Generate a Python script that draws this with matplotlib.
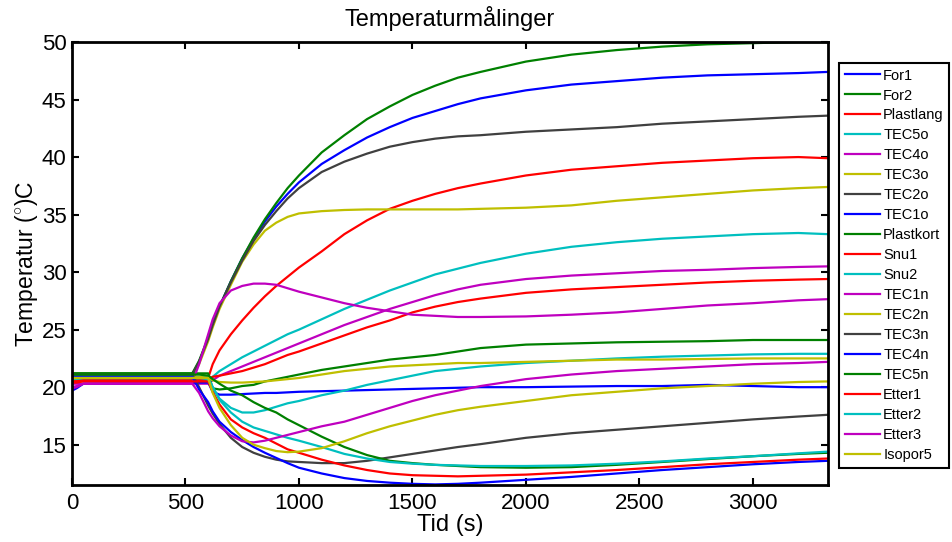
import numpy as np
import matplotlib
matplotlib.use("Agg")
import matplotlib.pyplot as plt

plt.rcParams["font.family"] = ["Liberation Sans", "DejaVu Sans"]
plt.rcParams["mathtext.fontset"] = "custom"
plt.rcParams["mathtext.rm"] = "Liberation Sans"

# tidspunkt (s) for de avleste verdiene
tid = [0, 20, 50, 530, 560, 600, 620, 650, 700, 750, 800, 850, 900, 950, 1000,
       1100, 1200, 1300, 1400, 1500, 1600, 1700, 1800, 2000, 2200, 2400, 2600,
       2800, 3000, 3200, 3330]

navn = ["For1", "For2", "Plastlang", "TEC5o", "TEC4o", "TEC3o", "TEC2o", "TEC1o",
        "Plastkort", "Snu1", "Snu2", "TEC1n", "TEC2n", "TEC3n", "TEC4n", "TEC5n",
        "Etter1", "Etter2", "Etter3", "Isopor5"]

for1 = [20.9, 20.9, 21.0, 21.0, 22.2, 24.2, 25.4, 27.0, 29.2, 31.2, 32.9, 34.4, 35.7, 36.8, 37.8,
        39.4, 40.6, 41.7, 42.6, 43.4, 44.0, 44.6, 45.1, 45.8, 46.3, 46.6, 46.9, 47.1, 47.2, 47.3, 47.4]
for2 = [21.2, 21.2, 21.2, 21.2, 22.3, 24.3, 25.5, 27.0, 29.2, 31.2, 33.0, 34.6, 36.0, 37.3, 38.4,
        40.4, 41.9, 43.3, 44.4, 45.4, 46.2, 46.9, 47.4, 48.3, 48.9, 49.3, 49.6, 49.8, 49.9, 50.0, 50.0]
plastlang = [20.6, 20.6, 20.7, 20.7, 20.7, 20.8, 22.0, 23.2, 24.6, 25.8, 26.9, 27.9, 28.8, 29.6, 30.4,
             31.8, 33.3, 34.5, 35.5, 36.2, 36.8, 37.3, 37.7, 38.4, 38.9, 39.2, 39.5, 39.7, 39.9, 40.0, 39.9]
tec5o = [20.7, 20.7, 20.7, 20.7, 20.7, 20.6, 20.9, 21.4, 22.0, 22.6, 23.1, 23.6, 24.1, 24.6, 25.0,
         25.9, 26.8, 27.6, 28.4, 29.1, 29.8, 30.3, 30.8, 31.6, 32.2, 32.6, 32.9, 33.1, 33.3, 33.4, 33.3]
tec4o = [20.3, 20.3, 20.3, 20.3, 20.3, 20.3, 20.6, 21.0, 21.4, 21.8, 22.2, 22.6, 23.0, 23.4, 23.8,
         24.6, 25.4, 26.1, 26.8, 27.4, 28.0, 28.5, 28.9, 29.4, 29.7, 29.9, 30.1, 30.2, 30.35, 30.45, 30.5]
tec3o = [20.8, 20.8, 20.9, 20.9, 22.0, 24.0, 25.2, 26.8, 28.9, 30.9, 32.4, 33.6, 34.3, 34.8, 35.1,
         35.3, 35.4, 35.45, 35.45, 35.45, 35.45, 35.45, 35.5, 35.6, 35.8, 36.2, 36.5, 36.8, 37.1, 37.3, 37.4]
tec2o = [21.1, 21.1, 21.1, 21.1, 22.2, 24.2, 25.4, 27.0, 29.1, 31.0, 32.7, 34.1, 35.3, 36.4, 37.3,
         38.7, 39.6, 40.3, 40.9, 41.3, 41.6, 41.8, 41.9, 42.2, 42.4, 42.6, 42.9, 43.1, 43.3, 43.5, 43.6]
tec1o = [19.7, 19.9, 20.3, 20.4, 20.4, 20.4, 19.6, 19.35, 19.35, 19.4, 19.45, 19.5, 19.5, 19.55, 19.6,
         19.65, 19.7, 19.75, 19.8, 19.85, 19.9, 19.95, 20.0, 20.0, 20.05, 20.1, 20.1, 20.2, 20.1, 20.0, 20.0]
plastkort = [21.2, 21.2, 21.2, 21.2, 21.2, 21.2, 19.9, 19.8, 19.9, 20.1, 20.2, 20.5, 20.7, 20.9, 21.1,
             21.5, 21.8, 22.1, 22.4, 22.6, 22.8, 23.1, 23.4, 23.7, 23.8, 23.9, 23.95, 24.0, 24.1, 24.1, 24.1]
snu1 = [20.5, 20.5, 20.6, 20.6, 20.6, 20.7, 20.9, 21.0, 21.2, 21.4, 21.7, 22.0, 22.4, 22.8, 23.1,
        23.8, 24.5, 25.2, 25.8, 26.5, 27.0, 27.4, 27.7, 28.2, 28.5, 28.7, 28.9, 29.1, 29.25, 29.35, 29.4]
snu2 = [20.9, 20.9, 20.9, 20.9, 20.9, 20.9, 20.0, 19.0, 18.2, 17.8, 17.8, 18.0, 18.3, 18.6, 18.8,
        19.3, 19.7, 20.2, 20.6, 21.0, 21.4, 21.6, 21.8, 22.1, 22.3, 22.5, 22.65, 22.75, 22.85, 22.9, 22.9]
tec1n = [20.0, 20.1, 20.3, 20.4, 22.0, 24.6, 25.9, 27.3, 28.4, 28.8, 29.0, 29.0, 28.9, 28.6, 28.3,
         27.8, 27.3, 26.9, 26.6, 26.3, 26.2, 26.1, 26.1, 26.15, 26.3, 26.5, 26.8, 27.1, 27.3, 27.55, 27.65]
tec2n = [20.8, 20.8, 20.9, 20.9, 20.9, 20.8, 20.6, 20.45, 20.4, 20.4, 20.45, 20.5, 20.6, 20.7, 20.8,
         21.1, 21.4, 21.6, 21.8, 21.9, 22.0, 22.1, 22.1, 22.2, 22.3, 22.4, 22.4, 22.45, 22.5, 22.5, 22.5]
tec3n = [21.1, 21.1, 21.1, 21.1, 20.0, 18.4, 17.7, 16.8, 15.6, 14.8, 14.3, 13.95, 13.7, 13.55, 13.5,
         13.4, 13.4, 13.6, 13.9, 14.2, 14.5, 14.8, 15.05, 15.6, 16.0, 16.3, 16.6, 16.9, 17.2, 17.45, 17.6]
tec4n = [20.9, 20.9, 20.9, 20.9, 19.8, 18.7, 17.9, 17.0, 16.1, 15.4, 14.8, 14.3, 13.85, 13.4, 13.0,
         12.5, 12.1, 11.85, 11.7, 11.6, 11.55, 11.6, 11.7, 11.95, 12.2, 12.5, 12.8, 13.05, 13.3, 13.5, 13.6]
tec5n = [21.1, 21.1, 21.1, 21.1, 21.1, 21.0, 20.7, 20.3, 19.7, 19.3, 18.7, 18.2, 17.8, 17.2, 16.7,
         15.7, 14.8, 14.1, 13.6, 13.4, 13.25, 13.15, 13.05, 13.0, 13.05, 13.25, 13.5, 13.75, 14.0, 14.2, 14.3]
etter1 = [20.4, 20.4, 20.5, 20.5, 20.5, 20.5, 19.6, 18.5, 17.2, 16.5, 16.0, 15.6, 15.1, 14.6, 14.3,
          13.7, 13.2, 12.8, 12.5, 12.35, 12.3, 12.25, 12.3, 12.4, 12.6, 12.8, 13.05, 13.3, 13.5, 13.7, 13.8]
etter2 = [20.8, 20.8, 20.8, 20.8, 20.8, 20.7, 20.0, 18.9, 17.8, 17.0, 16.5, 16.2, 15.9, 15.6, 15.35,
          14.8, 14.2, 13.8, 13.5, 13.35, 13.25, 13.2, 13.15, 13.15, 13.2, 13.35, 13.55, 13.8, 14.0, 14.25, 14.4]
etter3 = [19.9, 20.0, 20.3, 20.3, 19.5, 17.9, 17.3, 16.6, 15.8, 15.3, 15.2, 15.35, 15.6, 15.85, 16.1,
          16.6, 17.0, 17.6, 18.2, 18.8, 19.3, 19.7, 20.1, 20.7, 21.1, 21.4, 21.6, 21.8, 22.0, 22.1, 22.2]
isopor5 = [20.8, 20.8, 20.8, 20.8, 20.8, 20.8, 19.5, 18.2, 16.7, 15.6, 15.0, 14.7, 14.45, 14.35, 14.4,
           14.7, 15.3, 16.0, 16.6, 17.1, 17.6, 18.0, 18.3, 18.8, 19.3, 19.6, 19.9, 20.1, 20.3, 20.45, 20.5]

serier = [for1, for2, plastlang, tec5o, tec4o, tec3o, tec2o, tec1o, plastkort, snu1,
          snu2, tec1n, tec2n, tec3n, tec4n, tec5n, etter1, etter2, etter3, isopor5]

# standard fargerekkefolge (b, g, r, c, m, y, k)
farger = ["#0000ff", "#008000", "#ff0000", "#00bfbf", "#bf00bf", "#bfbf00", "#404040"]

fig = plt.figure(figsize=(9.52, 5.42), dpi=100)
ax = fig.add_axes([0.0756, 0.1052, 0.794, 0.8173])

for i, (lbl, y) in enumerate(zip(navn, serier)):
    ax.plot(tid, y, color=farger[i % len(farger)], lw=1.6, label=lbl)

ax.set_xlim(0, 3330)
ax.set_ylim(11.5, 50)
ax.set_xticks(np.arange(0, 3001, 500))
ax.set_yticks(np.arange(15, 51, 5))
ax.tick_params(direction="in", length=5, width=1.5, top=True, right=True,
               labelsize=16)
ax.tick_params(axis="x", pad=6)
ax.tick_params(axis="y", pad=4)
for s in ax.spines.values():
    s.set_linewidth(2)

ax.set_title("Temperaturmålinger", fontsize=17, pad=11.5)
ax.set_xlabel("Tid (s)", fontsize=17, labelpad=0)
ax.set_ylabel(r"Temperatur ($^{\circ}$)C", fontsize=16.5, labelpad=1)

leg = ax.legend(loc="upper left", bbox_to_anchor=(0.8813, 0.8838),
                bbox_transform=fig.transFigure, borderaxespad=0, fontsize=10.5,
                fancybox=False, edgecolor="black", framealpha=1,
                handlelength=2.4, handletextpad=0.25, labelspacing=0.41,
                borderpad=0.38)
leg.get_frame().set_linewidth(1.5)

fig.savefig("out.png", dpi=100)
